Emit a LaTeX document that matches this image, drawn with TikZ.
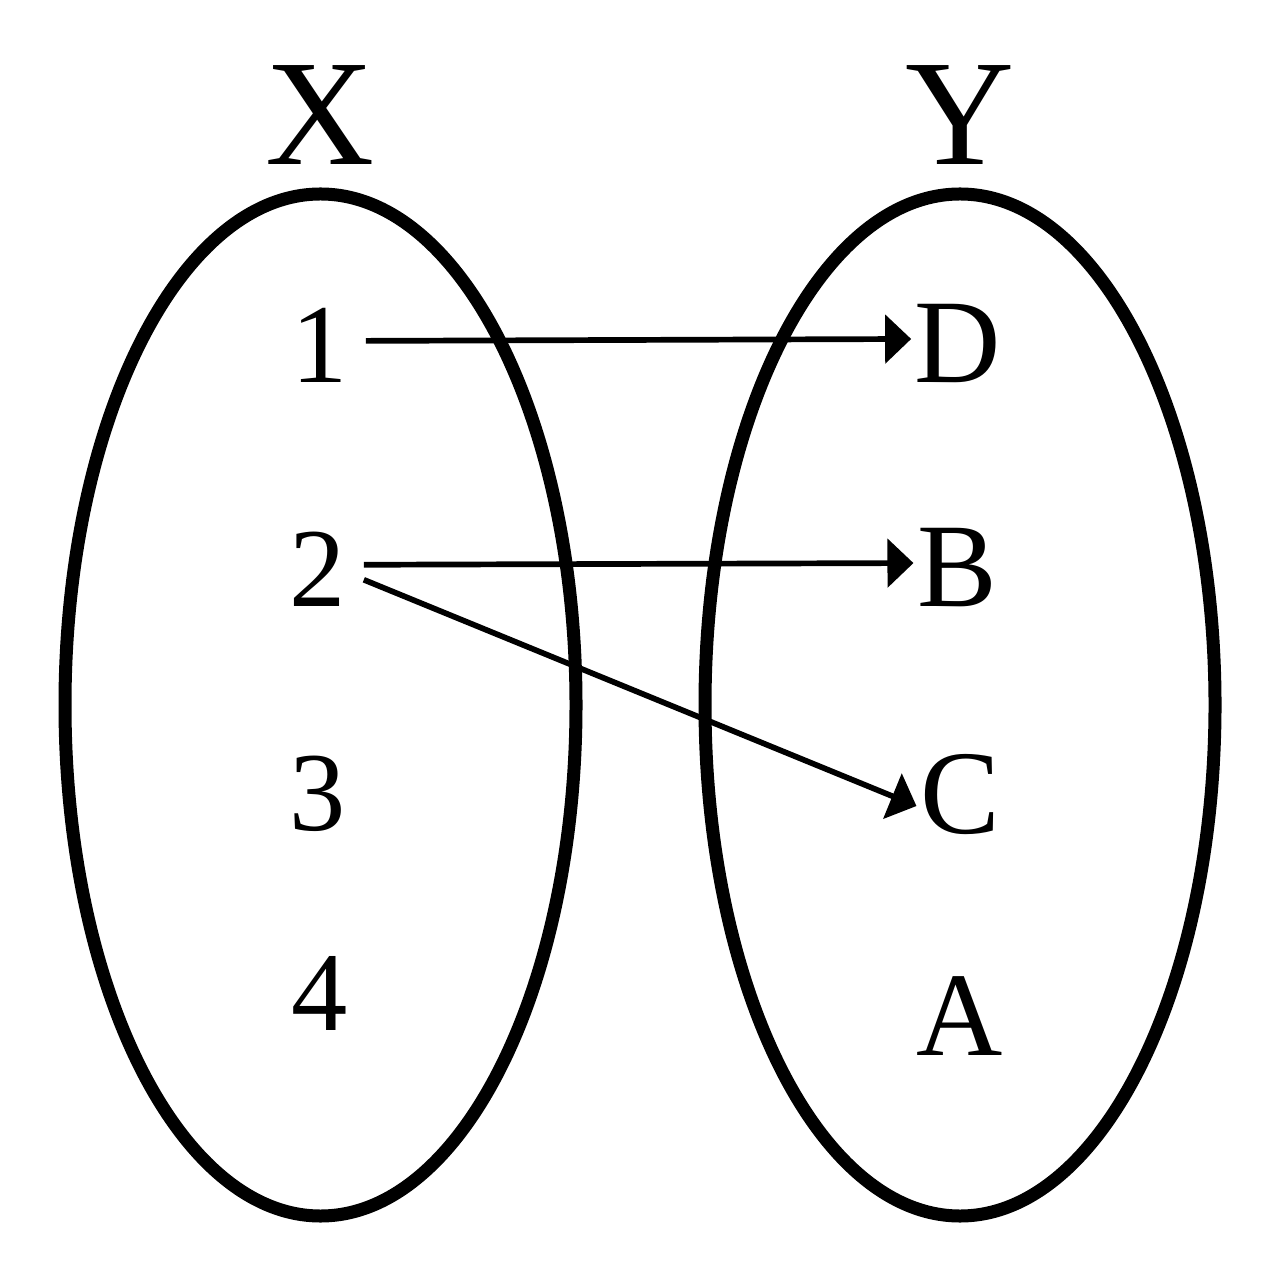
\documentclass[tikz,border=0pt]{standalone}
\usepackage{fontspec}
\setmainfont{Liberation Serif}
\usetikzlibrary{arrows.meta,positioning}

\begin{document}
\begin{tikzpicture}[>={Triangle[length=0.26cm,width=0.48cm]},
	setname/.style={anchor=base, font=\fontsize{43}{50}\selectfont},
	elemx/.style={anchor=base, inner xsep=0.17cm, font=\fontsize{32}{38}\selectfont},
	elemy/.style={anchor=base, inner xsep=0.03cm, font=\fontsize{34}{40}\selectfont},
	setline/.style={line width=0.13cm},
	mapline/.style={->, line width=0.057cm}]
						\useasboundingbox (0,0) rectangle (12.8,-12.8);

						% the two sets
						\draw[setline] (3.205,-7.05) ellipse (2.555 and 5.11);
						\draw[setline] (9.60,-7.05) ellipse (2.55 and 5.11);

						\node[setname] (x) at (3.20,-1.65) {X};
						\node[setname] (y) at (9.60,-1.65) {Y};

						\node[elemx] (n1) at (3.20,-3.83) {1};
						\node[elemx] (n2) at (3.18,-6.07) {2};
						\node[elemx] (n3) at (3.18,-8.30) {3};
						\node[elemx] (n4) at (3.20,-10.30) {4};

						\node[elemy] (nD) at (9.58,-3.83) {D};
						\node[elemy] (nB) at (9.57,-6.07) {B};
						\node[elemy] (nC) at (9.60,-8.33) {C};
						\node[elemy] (nA) at (9.60,-10.55) {A};

						\draw[mapline] ([yshift=0.05cm]n1.east) to ([yshift=0.05cm]nD.west);
						\draw[mapline] ([yshift=0.05cm]n2.east) to ([yshift=0.05cm]nB.west);
						\draw[mapline] ([yshift=-0.10cm]n2.east) to ([yshift=-0.12cm]nC.west);

					\end{tikzpicture}
\end{document}
